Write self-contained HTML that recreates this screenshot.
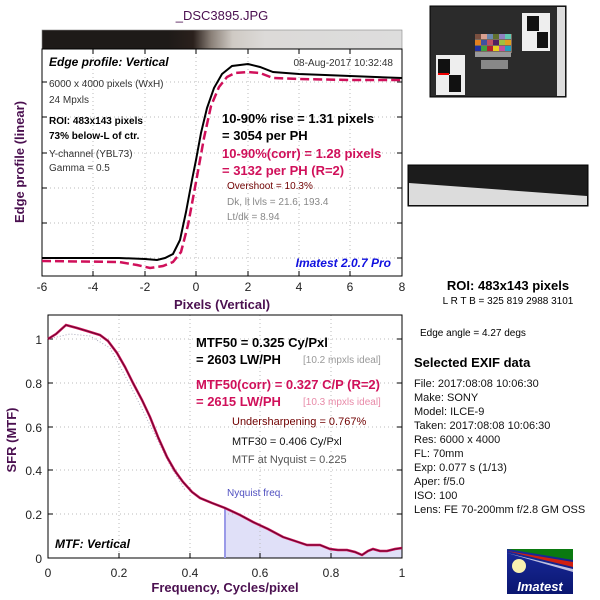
<!DOCTYPE html>
<html><head><meta charset="utf-8"><style>
body{margin:0;background:#fff;width:600px;height:600px;overflow:hidden}
svg{display:block;font-family:"Liberation Sans",Arial,sans-serif}
</style></head><body>
<svg width="600" height="600" viewBox="0 0 600 600" xmlns="http://www.w3.org/2000/svg">
<defs>
<linearGradient id="gb" x1="0" x2="1">
<stop offset="0" stop-color="#1e1a18"/><stop offset="0.35" stop-color="#1e1a18"/>
<stop offset="0.42" stop-color="#2a201c"/><stop offset="0.47" stop-color="#8a8078"/>
<stop offset="0.53" stop-color="#cfcac4"/><stop offset="0.62" stop-color="#dcdad8"/><stop offset="1" stop-color="#dddddd"/>
</linearGradient>
<linearGradient id="lg" x1="0" y1="0" x2="0" y2="1"><stop offset="0" stop-color="#1a2a9a"/><stop offset="1" stop-color="#0a1670"/></linearGradient>
</defs>
<text x="222" y="20" text-anchor="middle" font-size="13" fill="#4b1050">_DSC3895.JPG</text>
<rect x="42" y="30" width="360" height="19" fill="url(#gb)" stroke="#888" stroke-width="0.6"/>
<!-- top plot -->
<g stroke="#bbb" stroke-width="1" stroke-dasharray="1,3">
<line x1="93" y1="49" x2="93" y2="276"/><line x1="145" y1="49" x2="145" y2="276"/><line x1="196" y1="49" x2="196" y2="276"/><line x1="248" y1="49" x2="248" y2="276"/><line x1="299" y1="49" x2="299" y2="276"/><line x1="350" y1="49" x2="350" y2="276"/>
<line x1="42" y1="82" x2="402" y2="82"/><line x1="42" y1="117" x2="402" y2="117"/><line x1="42" y1="153" x2="402" y2="153"/><line x1="42" y1="188" x2="402" y2="188"/><line x1="42" y1="223" x2="402" y2="223"/><line x1="42" y1="258" x2="402" y2="258"/>
</g>
<rect x="42" y="49" width="360" height="227" fill="none" stroke="#000" stroke-width="1"/>
<g stroke="#000"><line x1="42" y1="82" x2="47" y2="82"/><line x1="42" y1="117" x2="47" y2="117"/><line x1="42" y1="153" x2="47" y2="153"/><line x1="42" y1="188" x2="47" y2="188"/><line x1="42" y1="223" x2="47" y2="223"/><line x1="42" y1="258" x2="47" y2="258"/>
<line x1="397" y1="82" x2="402" y2="82"/><line x1="397" y1="117" x2="402" y2="117"/><line x1="397" y1="153" x2="402" y2="153"/><line x1="397" y1="188" x2="402" y2="188"/><line x1="397" y1="223" x2="402" y2="223"/><line x1="397" y1="258" x2="402" y2="258"/>
<line x1="93" y1="276" x2="93" y2="271"/><line x1="145" y1="276" x2="145" y2="271"/><line x1="196" y1="276" x2="196" y2="271"/><line x1="248" y1="276" x2="248" y2="271"/><line x1="299" y1="276" x2="299" y2="271"/><line x1="350" y1="276" x2="350" y2="271"/>
<line x1="93" y1="49" x2="93" y2="54"/><line x1="145" y1="49" x2="145" y2="54"/><line x1="196" y1="49" x2="196" y2="54"/><line x1="248" y1="49" x2="248" y2="54"/><line x1="299" y1="49" x2="299" y2="54"/><line x1="350" y1="49" x2="350" y2="54"/></g>
<polyline fill="none" stroke="#d0105a" stroke-width="2.5" stroke-dasharray="9,4" points="42,261 119,262 137,265 150,268 163,266 173,262 181,252 188,225 196,182 204,138 211,106 219,87 227,77 235,73 248,72 260,73 273,78 299,79 350,80 402,80"/>
<polyline fill="none" stroke="#000" stroke-width="2" points="42,258 119,258 145,259 157,260 165,258 173,254 180,240 186,212 192,180 196,160 201,133 207,108 214,88 222,74 232,66 248,64 260,67 273,72 299,74 325,75 350,76 402,78"/>
<g font-size="12" fill="#222" text-anchor="middle"><text x="42" y="291">-6</text><text x="93" y="291">-4</text><text x="145" y="291">-2</text><text x="196" y="291">0</text><text x="248" y="291">2</text><text x="299" y="291">4</text><text x="350" y="291">6</text><text x="402" y="291">8</text></g>
<text x="222" y="309" text-anchor="middle" font-size="13" font-weight="bold" fill="#4b1050">Pixels (Vertical)</text>
<text transform="translate(24,162) rotate(-90)" text-anchor="middle" font-size="13" font-weight="bold" fill="#4b1050">Edge profile (linear)</text>
<text x="49" y="66" font-size="12" font-weight="bold" font-style="italic">Edge profile: Vertical</text>
<text x="393" y="66" font-size="10" text-anchor="end" fill="#333">08-Aug-2017 10:32:48</text>
<g font-size="10" fill="#333"><text x="49" y="87">6000 x 4000 pixels (WxH)</text><text x="49" y="103">24 Mpxls</text>
<text x="49" y="157">Y-channel  (YBL73)</text><text x="49" y="171">Gamma = 0.5</text></g>
<g font-size="10" font-weight="bold"><text x="49" y="124">ROI: 483x143 pixels</text><text x="49" y="139">73% below-L of ctr.</text></g>
<g font-size="13" font-weight="bold"><text x="222" y="123">10-90% rise = 1.31 pixels</text><text x="222" y="140">= 3054 per PH</text>
<text x="222" y="158" fill="#d0105a">10-90%(corr) = 1.28 pixels</text><text x="222" y="175" fill="#d0105a">= 3132 per PH  (R=2)</text></g>
<text x="227" y="189" font-size="10" fill="#700000">Overshoot = 10.3%</text>
<g font-size="10" fill="#888"><text x="227" y="205">Dk, lt lvls = 21.6, 193.4</text><text x="227" y="220">Lt/dk = 8.94</text></g>
<text x="391" y="267" font-size="12" font-weight="bold" font-style="italic" fill="#1010e0" text-anchor="end">Imatest 2.0.7 Pro</text>
<!-- bottom plot -->
<polygon fill="#e0e0f8" points="225,558 225,508 253,522 283,537 307,545 320,545 330,549 347,550 362,555 373,549 387,551 402,548 402,558"/>
<g stroke="#bbb" stroke-width="1" stroke-dasharray="1,3">
<line x1="119" y1="315" x2="119" y2="558"/><line x1="190" y1="315" x2="190" y2="558"/><line x1="260" y1="315" x2="260" y2="558"/><line x1="331" y1="315" x2="331" y2="558"/>
<line x1="48" y1="339" x2="402" y2="339"/><line x1="48" y1="383" x2="402" y2="383"/><line x1="48" y1="427" x2="402" y2="427"/><line x1="48" y1="470" x2="402" y2="470"/><line x1="48" y1="514" x2="402" y2="514"/>
</g>
<rect x="48" y="315" width="354" height="243" fill="none" stroke="#000"/>
<g stroke="#000"><line x1="48" y1="339" x2="53" y2="339"/><line x1="48" y1="383" x2="53" y2="383"/><line x1="48" y1="427" x2="53" y2="427"/><line x1="48" y1="470" x2="53" y2="470"/><line x1="48" y1="514" x2="53" y2="514"/>
<line x1="397" y1="339" x2="402" y2="339"/><line x1="397" y1="383" x2="402" y2="383"/><line x1="397" y1="427" x2="402" y2="427"/><line x1="397" y1="470" x2="402" y2="470"/><line x1="397" y1="514" x2="402" y2="514"/>
<line x1="119" y1="558" x2="119" y2="553"/><line x1="190" y1="558" x2="190" y2="553"/><line x1="260" y1="558" x2="260" y2="553"/><line x1="331" y1="558" x2="331" y2="553"/></g>
<line x1="225" y1="558" x2="225" y2="508" stroke="#9a9ae8" stroke-width="2"/>
<polyline fill="none" stroke="#aab" stroke-width="1" stroke-dasharray="1,2" points="48,339 70,334 90,336 110,348 130,385 150,425 170,465 185,490"/>
<polyline fill="none" stroke="#d0105a" stroke-width="2.5" points="48,339 56,334 66,325 77,328 87,331 100,335 108,341 117,353 125,367 133,383 142,400 150,417 158,437 167,457 175,471 183,482 192,492 200,498 212,503 225,508 240,515 253,522 268,529 283,537 295,541 307,545 320,545 330,549 338,550 347,550 355,552 362,555 368,551 373,549 380,551 387,551 395,549 402,548"/>
<polyline fill="none" stroke="#000" stroke-width="1" points="48,339 56,334 66,325 77,328 87,331 100,335 108,341 117,353 125,367 133,383 142,400 150,417 158,437 167,457 175,471 183,482 192,492 200,498 212,503 225,508 240,515 253,522 268,529 283,537 295,541 307,545 320,545 330,549 338,550 347,550 355,552 362,555 368,551 373,549 380,551 387,551 395,549 402,548" opacity="0.5"/>
<g font-size="12" fill="#222" text-anchor="end"><text x="42" y="344">1</text><text x="42" y="388">0.8</text><text x="42" y="432">0.6</text><text x="42" y="475">0.4</text><text x="42" y="519">0.2</text><text x="42" y="563">0</text></g>
<g font-size="12" fill="#222" text-anchor="middle"><text x="48" y="577">0</text><text x="119" y="577">0.2</text><text x="190" y="577">0.4</text><text x="260" y="577">0.6</text><text x="331" y="577">0.8</text><text x="402" y="577">1</text></g>
<text x="225" y="592" text-anchor="middle" font-size="13" font-weight="bold" fill="#4b1050">Frequency, Cycles/pixel</text>
<text transform="translate(16,440) rotate(-90)" text-anchor="middle" font-size="13" font-weight="bold" fill="#4b1050">SFR (MTF)</text>
<g font-size="13" font-weight="bold"><text x="196" y="347">MTF50 = 0.325 Cy/Pxl</text><text x="196" y="364">= 2603 LW/PH</text>
<text x="196" y="389" fill="#d0105a">MTF50(corr) = 0.327 C/P  (R=2)</text><text x="196" y="406" fill="#d0105a">= 2615 LW/PH</text></g>
<text x="303" y="363" font-size="10" fill="#999">[10.2 mpxls ideal]</text>
<text x="303" y="405" font-size="10" fill="#e88aa8">[10.3 mpxls ideal]</text>
<text x="232" y="425" font-size="11" fill="#700000">Undersharpening = 0.767%</text>
<text x="232" y="445" font-size="11" fill="#111">MTF30 = 0.406 Cy/Pxl</text>
<text x="232" y="463" font-size="11" fill="#555">MTF at Nyquist = 0.225</text>
<text x="227" y="496" font-size="10" fill="#5050c0">Nyquist freq.</text>
<text x="55" y="548" font-size="12" font-weight="bold" font-style="italic">MTF: Vertical</text>
<!-- right panel -->
<rect x="430" y="6" width="136" height="91" fill="#2b2b2b" stroke="#000"/>
<rect x="557" y="7" width="8" height="89" fill="#ddd"/>
<rect x="522" y="13" width="28" height="38" fill="#eee"/><rect x="527" y="16" width="12" height="15" fill="#111"/><rect x="537" y="32" width="11" height="16" fill="#111"/>
<rect x="436" y="55" width="29" height="40" fill="#eee"/><rect x="438" y="59" width="12" height="15" fill="#111"/><rect x="449" y="75" width="12" height="17" fill="#111"/><rect x="438" y="73" width="11" height="2" fill="#e00"/>
<rect x="475" y="34" width="37" height="19" fill="#7a6a60"/>
<rect x="475" y="34" width="6" height="5" fill="#7a5040"/><rect x="481" y="34" width="6" height="5" fill="#d8a090"/><rect x="487" y="34" width="6" height="5" fill="#6a88b0"/><rect x="493" y="34" width="6" height="5" fill="#607030"/><rect x="499" y="34" width="6" height="5" fill="#9080c0"/><rect x="505" y="34" width="6" height="5" fill="#60c8b0"/>
<rect x="475" y="40" width="6" height="5" fill="#e08020"/><rect x="481" y="40" width="6" height="5" fill="#4050a0"/><rect x="487" y="40" width="6" height="5" fill="#c05060"/><rect x="493" y="40" width="6" height="5" fill="#502060"/><rect x="499" y="40" width="6" height="5" fill="#a0c040"/><rect x="505" y="40" width="6" height="5" fill="#e0a020"/>
<rect x="475" y="46" width="6" height="5" fill="#2030a0"/><rect x="481" y="46" width="6" height="5" fill="#40a040"/><rect x="487" y="46" width="6" height="5" fill="#b02030"/><rect x="493" y="46" width="6" height="5" fill="#e8d020"/><rect x="499" y="46" width="6" height="5" fill="#c050a0"/><rect x="505" y="46" width="6" height="5" fill="#20a0c0"/>
<rect x="475" y="52" width="36" height="5" fill="#999"/><rect x="481" y="60" width="27" height="9" fill="#888"/>
<rect x="408" y="165" width="180" height="41" fill="#1c1c1c" stroke="#000"/>
<polygon points="409,183 587,196 587,205 409,205" fill="#dcdcdc"/>
<text x="508" y="290" text-anchor="middle" font-size="13" font-weight="bold">ROI: 483x143 pixels</text>
<text x="508" y="304" text-anchor="middle" font-size="10">L R  T B = 325 819  2988 3101</text>
<text x="420" y="336" font-size="10">Edge angle = 4.27 degs</text>
<text x="414" y="367" font-size="13" font-weight="bold">Selected EXIF data</text>
<g font-size="11" fill="#111"><text x="414" y="387">File:  2017:08:08 10:06:30</text><text x="414" y="401">Make:  SONY</text><text x="414" y="415">Model:  ILCE-9</text><text x="414" y="429">Taken: 2017:08:08 10:06:30</text><text x="414" y="443">Res:   6000 x 4000</text><text x="414" y="457">FL:  70mm</text><text x="414" y="471">Exp:    0.077 s  (1/13)</text><text x="414" y="485">Aper:   f/5.0</text><text x="414" y="499">ISO:    100</text><text x="414" y="513">Lens:  FE 70-200mm f/2.8 GM OSS</text></g>
<rect x="507" y="549" width="66" height="45" fill="url(#lg)"/>
<polygon points="507,549 573,549 573,560" fill="#0a7a10"/>
<polygon points="507,551 573,562 573,567" fill="#d02010"/>
<polygon points="507,553 573,569 573,572" fill="#c0c0e0"/>
<circle cx="519" cy="566" r="7" fill="#f8f0b0"/>
<text x="540" y="591" text-anchor="middle" font-size="13" font-weight="bold" font-style="italic" fill="#fff">Imatest</text>
</svg>
</body></html>
